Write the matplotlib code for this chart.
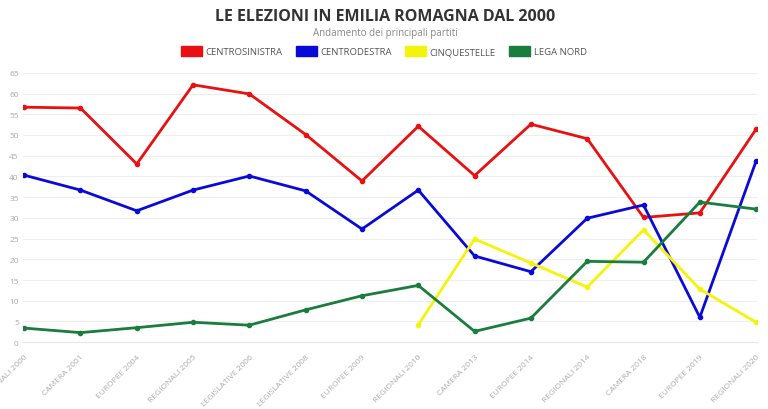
import matplotlib
matplotlib.use("Agg")
import matplotlib.pyplot as plt
from matplotlib.patches import Patch
import numpy as np

plt.rcParams['font.family'] = ['Open Sans', 'DejaVu Sans']

categories = ["REGIONALI 2000", "CAMERA 2001", "EUROPEE 2004", "REGIONALI 2005",
              "LEGISLATIVE 2006", "LEGISLATIVE 2008", "EUROPEE 2009", "REGIONALI 2010",
              "CAMERA 2013", "EUROPEE 2014", "REGIONALI 2014", "CAMERA 2018",
              "EUROPEE 2019", "REGIONALI 2020"]

centrosinistra = [56.7, 56.5, 43.0, 62.1, 59.9, 50.1, 38.9, 52.1, 40.2, 52.6, 49.1, 30.1, 31.2, 51.4]
centrodestra = [40.3, 36.7, 31.7, 36.7, 40.1, 36.5, 27.3, 36.7, 20.8, 17.0, 29.9, 33.1, 6.0, 43.7]
cinquestelle = [None, None, None, None, None, None, None, 4.2, 24.9, 19.1, 13.3, 27.1, 12.8, 4.8]
lega_nord = [3.4, 2.3, 3.5, 4.8, 4.1, 7.8, 11.2, 13.7, 2.6, 5.8, 19.5, 19.3, 33.8, 32.1]

series = [
    ("CENTROSINISTRA", centrosinistra, "#e81010"),
    ("CENTRODESTRA", centrodestra, "#0a0ad8"),
    ("CINQUESTELLE", cinquestelle, "#f4f40a"),
    ("LEGA NORD", lega_nord, "#1a7d3e"),
]

fig = plt.figure(figsize=(7.68, 4.10), dpi=100)
ax = fig.add_axes([0.030, 0.163, 0.956, 0.657])

x = np.arange(len(categories))
for name, vals, col in series:
    arr = np.array([np.nan if v is None else v for v in vals], dtype=float)
    ax.plot(x, arr, color=col, lw=2.0, marker='o', markersize=3, label=name, zorder=3)

ax.set_ylim(0, 65)
ax.set_xlim(-0.02, len(categories) - 1 + 0.02)
ax.set_yticks(np.arange(0, 66, 5))
ax.tick_params(axis='y', length=0, labelsize=6, labelcolor='#aaaaaa', pad=3)
ax.set_xticks(x)
ax.set_xticklabels(categories, rotation=45, ha='right', rotation_mode='anchor')
ax.tick_params(axis='x', length=0, labelsize=6, labelcolor='#aaaaaa', pad=8)
ax.grid(axis='y', color='#eeeeee', lw=0.8, zorder=0)
for s in ['top', 'right', 'left']:
    ax.spines[s].set_visible(False)
ax.spines['bottom'].set_color('#e6e6e6')
ax.spines['bottom'].set_linewidth(0.8)

fig.text(0.502, 0.958, "LE ELEZIONI IN EMILIA ROMAGNA DAL 2000", ha='center', va='center',
         fontsize=11.5, fontweight='bold', color='#333333')
fig.text(0.502, 0.918, "Andamento dei principali partiti", ha='center', va='center',
         fontsize=7, color='#888888')

handles = [Patch(facecolor=c, edgecolor=c, label=n) for n, _, c in series]
leg = fig.legend(handles=handles, loc='center', bbox_to_anchor=(0.5, 0.872), ncol=4,
                 frameon=False, fontsize=6.8, handlelength=2.2, handleheight=1.2,
                 columnspacing=1.4, handletextpad=0.4)
for t in leg.get_texts():
    t.set_color('#555555')

fig.savefig("out.png", dpi=100)
